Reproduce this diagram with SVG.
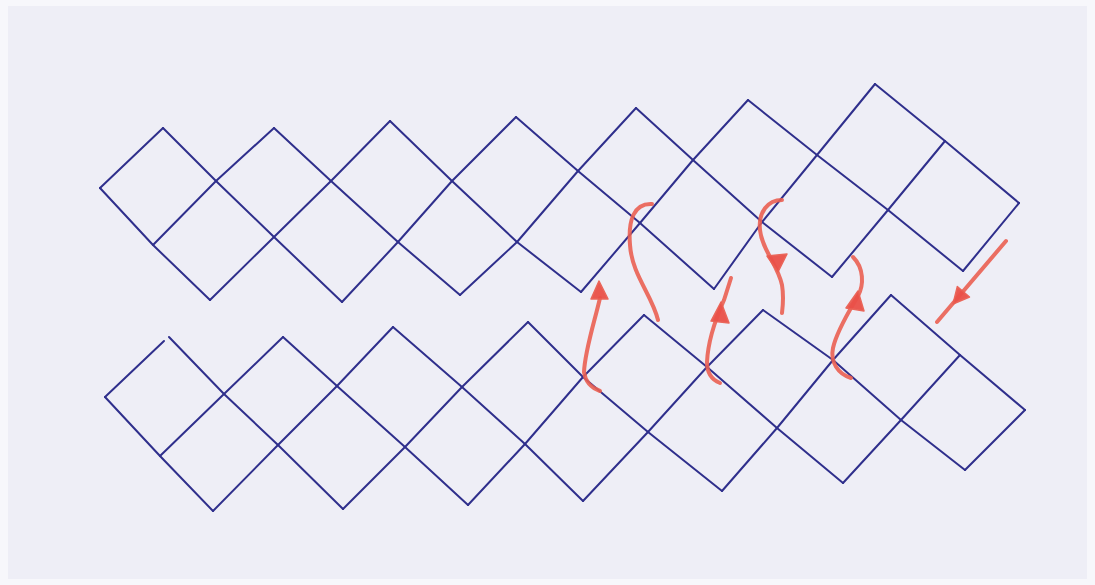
<svg xmlns="http://www.w3.org/2000/svg" width="1095" height="585" viewBox="0 0 1095 585">
  <style>
    .bg { fill: #eeeef6; }
    .ln { fill: none; stroke: #2f2f8c; stroke-width: 2; stroke-linejoin: round; stroke-linecap: round; }
    .rd { fill: none; stroke: #ea5f52; stroke-width: 4; stroke-linecap: round; opacity: 0.9; }
    .hd { fill: #ea5048; stroke: #ea5f52; stroke-width: 1.5; stroke-linejoin: round; opacity: 0.95; }
  </style>
  <rect x="0" y="0" width="1095" height="585" fill="#f7f7fb"/>
  <rect class="bg" x="8" y="6" width="1079" height="573"/>

  <g id="top-band">
    <polyline class="ln" points="100,188 153,245 210,300"/>
    <polyline class="ln" points="163,128 216,181 274,237 342,302"/>
    <polyline class="ln" points="274,128 331,181 398,242 460,295"/>
    <polyline class="ln" points="390,121 452,181 517,242 581,292"/>
    <polyline class="ln" points="516,117 578,171 640,223 714,289"/>
    <polyline class="ln" points="636,108 693,160 762,222 832,277"/>
    <polyline class="ln" points="748,100 817,155 888,210 963,271"/>
    <polyline class="ln" points="875,84 945,141 1019,203"/>
    <polyline class="ln" points="100,188 163,128"/>
    <polyline class="ln" points="153,245 216,181 274,128"/>
    <polyline class="ln" points="210,300 274,237 331,181 390,121"/>
    <polyline class="ln" points="342,302 398,242 452,181 516,117"/>
    <polyline class="ln" points="460,295 517,242 578,171 636,108"/>
    <polyline class="ln" points="581,292 640,223 693,160 748,100"/>
    <polyline class="ln" points="714,289 762,222 817,155 875,84"/>
    <polyline class="ln" points="832,277 888,210 945,141"/>
    <polyline class="ln" points="963,271 1019,203"/>
  </g>

  <g id="bottom-band">
    <polyline class="ln" points="105,397 160,456 213,511"/>
    <polyline class="ln" points="169,337 224,394 278,445 343,509"/>
    <polyline class="ln" points="283,337 337,386 405,447 468,505"/>
    <polyline class="ln" points="393,327 462,387 525,444 583,501"/>
    <polyline class="ln" points="528,322 583,377 648,432 722,491"/>
    <polyline class="ln" points="644,315 707,367 777,428 843,483"/>
    <polyline class="ln" points="763,310 833,360 901,420 965,470"/>
    <polyline class="ln" points="891,295 960,355 1025,410"/>
    <polyline class="ln" points="105,397 164,341"/>
    <polyline class="ln" points="160,456 224,394 283,337"/>
    <polyline class="ln" points="213,511 278,445 337,386 393,327"/>
    <polyline class="ln" points="343,509 405,447 462,387 528,322"/>
    <polyline class="ln" points="468,505 525,444 583,377 644,315"/>
    <polyline class="ln" points="583,501 648,432 707,367 763,310"/>
    <polyline class="ln" points="722,491 777,428 833,360 891,295"/>
    <polyline class="ln" points="843,483 901,420 960,355"/>
    <polyline class="ln" points="965,470 1025,410"/>
  </g>

  <g id="connectors">
    <path class="rd" d="M600,391 Q586,386 584,372 C585,350 595,320 600,298"/>
    <polygon class="hd" points="599,281 591,299 608,299"/>
    <path class="rd" d="M658,320 C652,295 632,275 630,245 C628,220 634,203 652,204"/>
    <path class="rd" d="M720,383 Q707,378 707,362 C708,340 716,318 724,300 L731,278"/>
    <polygon class="hd" points="721,302 711,321 729,323"/>
    <path class="rd" d="M782,200 C768,200 758,212 760,230 C762,250 778,265 782,285 C784,297 783,305 782,313"/>
    <polygon class="hd" points="778,272 767,256 787,254"/>
    <path class="rd" d="M851,378 C838,374 830,362 833,348 C837,330 850,310 858,296 C864,285 864,268 853,257"/>
    <polygon class="hd" points="858,291 846,308 864,311"/>
    <path class="rd" d="M1006,241 L937,322"/>
    <polygon class="hd" points="953,304 969.5,297 957.3,286.6"/>
  </g>
</svg>
